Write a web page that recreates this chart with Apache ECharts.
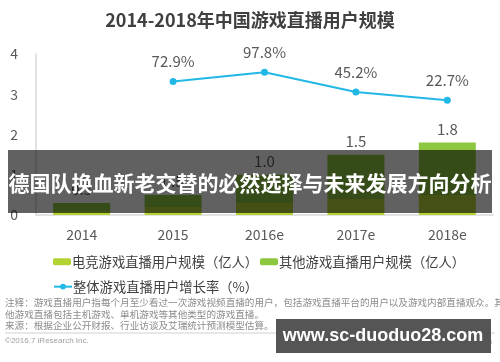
<!DOCTYPE html>
<html><head><meta charset="utf-8">
<script src="https://cdn.jsdelivr.net/npm/echarts@6/dist/echarts.min.js"></script>
<style>html,body{margin:0;padding:0;background:#fff}#c{width:500px;height:362px}</style>
</head><body><div id="c"></div>
<script>
const categories = ['2014', '2015', '2016e', '2017e', '2018e'];
const esportsUsers = [0.1, 0.2, 0.3, 0.4, 0.5];
const otherUsers = [0.2, 0.3, 0.7, 1.1, 1.3];
const totalLabels = ['0.3', '0.5', '1.0', '1.5', '1.8'];
const growthRate = [null, 72.9, 97.8, 45.2, 22.7];
const yTicks = [0, 1, 2, 3, 4];

const FONT = '"Noto Sans CJK SC", "Noto Sans", sans-serif';
const chart = echarts.init(document.getElementById('c'), null, {renderer: 'canvas'});
chart.setOption({
  animation: false,
  textStyle: {fontFamily: FONT},
  title: {text: '2014-2018年中国游戏直播用户规模', left: 'center', top: 6,
    textStyle: {fontSize: 18, fontWeight: 'bold', color: '#404040', fontFamily: FONT}},
  grid: {left: 36, right: 7, top: 54, bottom: 147},
  xAxis: {type: 'category', data: categories,
    axisLine: {lineStyle: {color: '#d9d9d9', width: 1.5}}, axisTick: {show: false},
    axisLabel: {fontSize: 14, color: '#595959', margin: 13, fontFamily: FONT}},
  yAxis: [{type: 'value', min: yTicks[0], max: yTicks[yTicks.length - 1], interval: 1,
    axisLine: {show: true, lineStyle: {color: '#d9d9d9', width: 1.5}}, axisTick: {show: false},
    splitLine: {show: false},
    axisLabel: {fontSize: 14, color: '#595959', margin: 18, fontFamily: FONT}},
   {type: 'value', min: -285, max: 147, show: false, splitLine: {show: false}}],
  legend: [
    {data: ['电竞游戏直播用户规模（亿人）'], left: 48, top: 250, itemWidth: 18, itemHeight: 7,
     textStyle: {fontSize: 13.3, color: '#404040', padding: [0,0,0,-4]}},
    {data: ['其他游戏直播用户规模（亿人）'], left: 255, top: 250, itemWidth: 18, itemHeight: 7,
     textStyle: {fontSize: 13.3, color: '#404040', padding: [0,0,0,-4]}},
    {data: ['整体游戏直播用户增长率（%）'], left: 48, top: 275, itemWidth: 18, itemHeight: 7,
     textStyle: {fontSize: 13.3, color: '#404040', padding: [0,0,0,-4]}}
  ],
  series: [
    {name: '电竞游戏直播用户规模（亿人）', type: 'bar', stack: 'u', data: esportsUsers, barWidth: 57,
     itemStyle: {color: '#b3d335'}},
    {name: '其他游戏直播用户规模（亿人）', type: 'bar', stack: 'u', data: otherUsers, barWidth: 57,
     itemStyle: {color: '#8dc63f'},
     label: {show: true, position: 'top', distance: 6, fontSize: 15, color: '#595959',
       formatter: p => totalLabels[p.dataIndex]}},
    {name: '整体游戏直播用户增长率（%）', type: 'line', yAxisIndex: 1, data: growthRate,
     lineStyle: {color: '#22b8e6', width: 2}, itemStyle: {color: '#22b8e6'},
     symbol: 'circle', symbolSize: 7,
     label: {show: true, position: 'top', distance: 9, fontSize: 15, color: '#595959',
       formatter: p => p.value.toFixed(1) + '%'}}
  ],
  graphic: [
    {type: 'text', left: 5, top: 297, style: {text: '注释：游戏直播用户指每个月至少看过一次游戏视频直播的用户，包括游戏直播平台的用户以及游戏内部直播观众。其\n他游戏直播包括主机游戏、单机游戏等其他类型的游戏直播。\n来源：根据企业公开财报、行业访谈及艾瑞统计预测模型估算。',
      font: '9.6px "Noto Sans CJK SC"', fill: '#8c8c8c', lineHeight: 11.5}},
    {type: 'line', shape: {x1: 5, y1: 333, x2: 495, y2: 333}, style: {stroke: '#d0d0d0', lineWidth: 1}},
    {type: 'text', left: 5, top: 337, style: {text: '©2016.7 iResearch Inc.', font: '8px "Liberation Sans"', fill: '#a0a0a0'}},
    {type: 'text', right: 8, top: 338, style: {text: 'www.iresearch.com.cn', font: '8px "Liberation Sans"', fill: '#a0a0a0'}},
    {type: 'rect', shape: {x: 8, y: 150, width: 484, height: 63}, style: {fill: 'rgba(0,0,0,0.62)'}, z: 100},
    {type: 'text', x: 250, y: 183, z: 101, style: {text: '德国队换血新老交替的必然选择与未来发展方向分析',
      font: 'bold 21px "Noto Sans CJK SC"', fill: '#ffffff', align: 'center', verticalAlign: 'middle'}},
    {type: 'rect', shape: {x: 276, y: 319, width: 215, height: 34}, style: {fill: '#555555'}, z: 100},
    {type: 'text', x: 383, y: 336, z: 101, style: {text: 'www.sc-duoduo28.com',
      font: 'bold 18px "Liberation Sans"', fill: '#ffffff', align: 'center', verticalAlign: 'middle'}}
  ]
});
</script></body></html>
